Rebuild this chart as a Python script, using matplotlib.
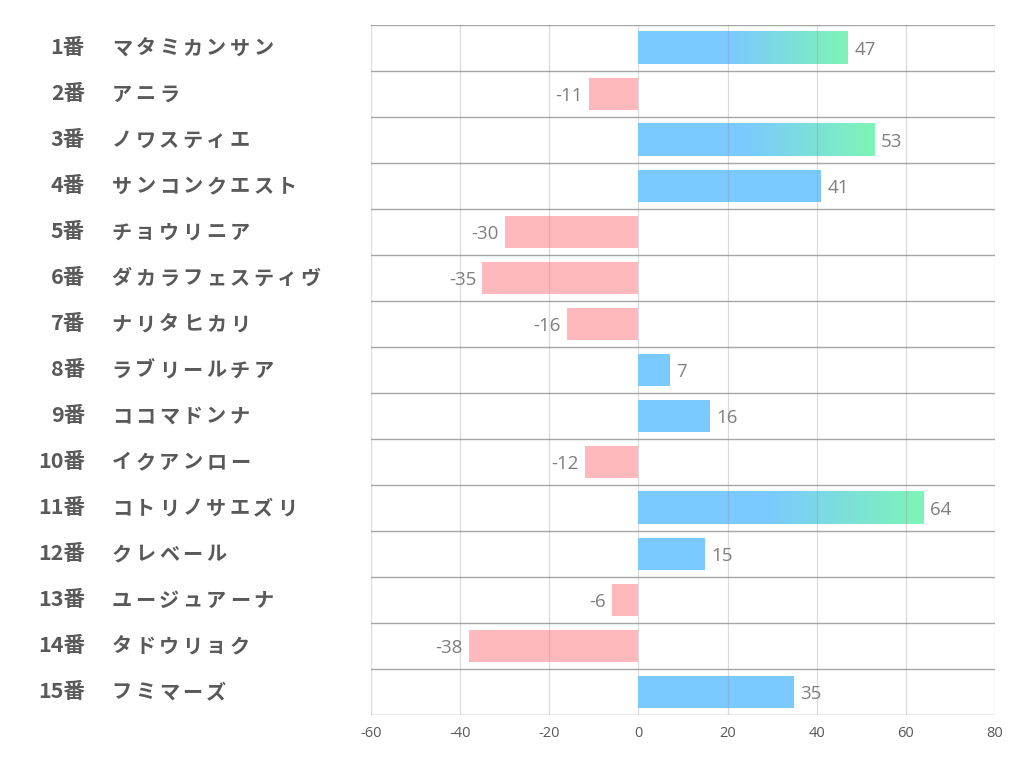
import numpy as np
import matplotlib.pyplot as plt
from matplotlib.colors import LinearSegmentedColormap, to_rgb
import matplotlib.transforms as mtransforms

plt.rcParams['font.family'] = ['Noto Sans CJK JP', 'DejaVu Sans']

numbers = ['1番', '2番', '3番', '4番', '5番', '6番', '7番', '8番', '9番', '10番',
           '11番', '12番', '13番', '14番', '15番']
names = ['マタミカンサン', 'アニラ', 'ノワスティエ', 'サンコンクエスト', 'チョウリニア',
         'ダカラフェスティヴ', 'ナリタヒカリ', 'ラブリールチア', 'ココマドンナ', 'イクアンロー',
         'コトリノサエズリ', 'クレベール', 'ユージュアーナ', 'タドウリョク', 'フミマーズ']
values = [47, -11, 53, 41, -30, -35, -16, 7, 16, -12, 64, 15, -6, -38, 35]
xticks = [-60, -40, -20, 0, 20, 40, 60, 80]

blue = '#7ACAFF'
green = '#7EF5B6'
pink = '#FFB9BD'

fig = plt.figure(figsize=(10.22, 7.82), dpi=100)
ax = fig.add_axes([371/1022, 1-715/782, (995-371)/1022, (715-25)/782])

y = np.arange(len(values))
h = 0.7
colors = []
for v in values:
    if v > 45:
        colors.append('none')
    elif v > 0:
        colors.append(blue)
    else:
        colors.append(pink)
ax.barh(y, values, height=h, color=colors, zorder=2)

# gradient bars: solid blue for first half, then blue -> green
cmap = LinearSegmentedColormap.from_list('bg', [(0, to_rgb(blue)), (0.45, to_rgb(blue)),
                                                (1, to_rgb(green))], N=512)
grad = np.linspace(0, 1, 512).reshape(1, -1)
for yi, v in zip(y, values):
    if v > 45:
        ax.imshow(grad, cmap=cmap, aspect='auto', extent=[0, v, yi+h/2, yi-h/2],
                  zorder=3, interpolation='nearest')

for yi, v in zip(y, values):
    if v >= 0:
        ax.text(v + 1.4, yi + 0.04, str(v), ha='left', va='center', fontsize=13.5,
                color='#7F7F7F', family='Open Sans', zorder=6)
    else:
        ax.text(v - 1.4, yi + 0.04, str(v), ha='right', va='center', fontsize=13.5,
                color='#7F7F7F', family='Open Sans', zorder=6)

ax.set_xlim(-60, 80)
ax.set_ylim(len(values) - 0.5, -0.5)
ax.set_xticks(xticks)
ax.set_xticklabels([str(t) for t in xticks], fontsize=10.5, color='#595959', family='Open Sans')
ax.tick_params(axis='x', length=0, pad=8)
ax.set_yticks([])
for xt in xticks:
    if xt == 0:
        ax.axvline(xt, color='#D9D9D9', lw=0.9, zorder=1)
    else:
        # light line, faintly visible through the bars too
        ax.axvline(xt, color='#8C8C8C', lw=0.9, alpha=0.3, zorder=4)
for b in np.arange(-0.5, len(values), 1.0):
    ax.axhline(b, color='#A6A6A6', lw=1.0, zorder=1)
for s in ax.spines.values():
    s.set_visible(False)

trans = mtransforms.blended_transform_factory(fig.transFigure, ax.transData)
step = 23.6
for yi, num, nm in zip(y, numbers, names):
    ax.text(85/1022, yi, num, transform=trans, ha='right', va='center', fontsize=15.5,
            fontweight='bold', color='#595959')
    # wide letter spacing for the horse names
    for k, ch in enumerate(nm):
        ax.text((110 + (k + 0.5) * step)/1022, yi, ch, transform=trans, ha='center',
                va='center', fontsize=14.5, fontweight='bold', color='#595959')

fig.savefig('out.png', dpi=100)
